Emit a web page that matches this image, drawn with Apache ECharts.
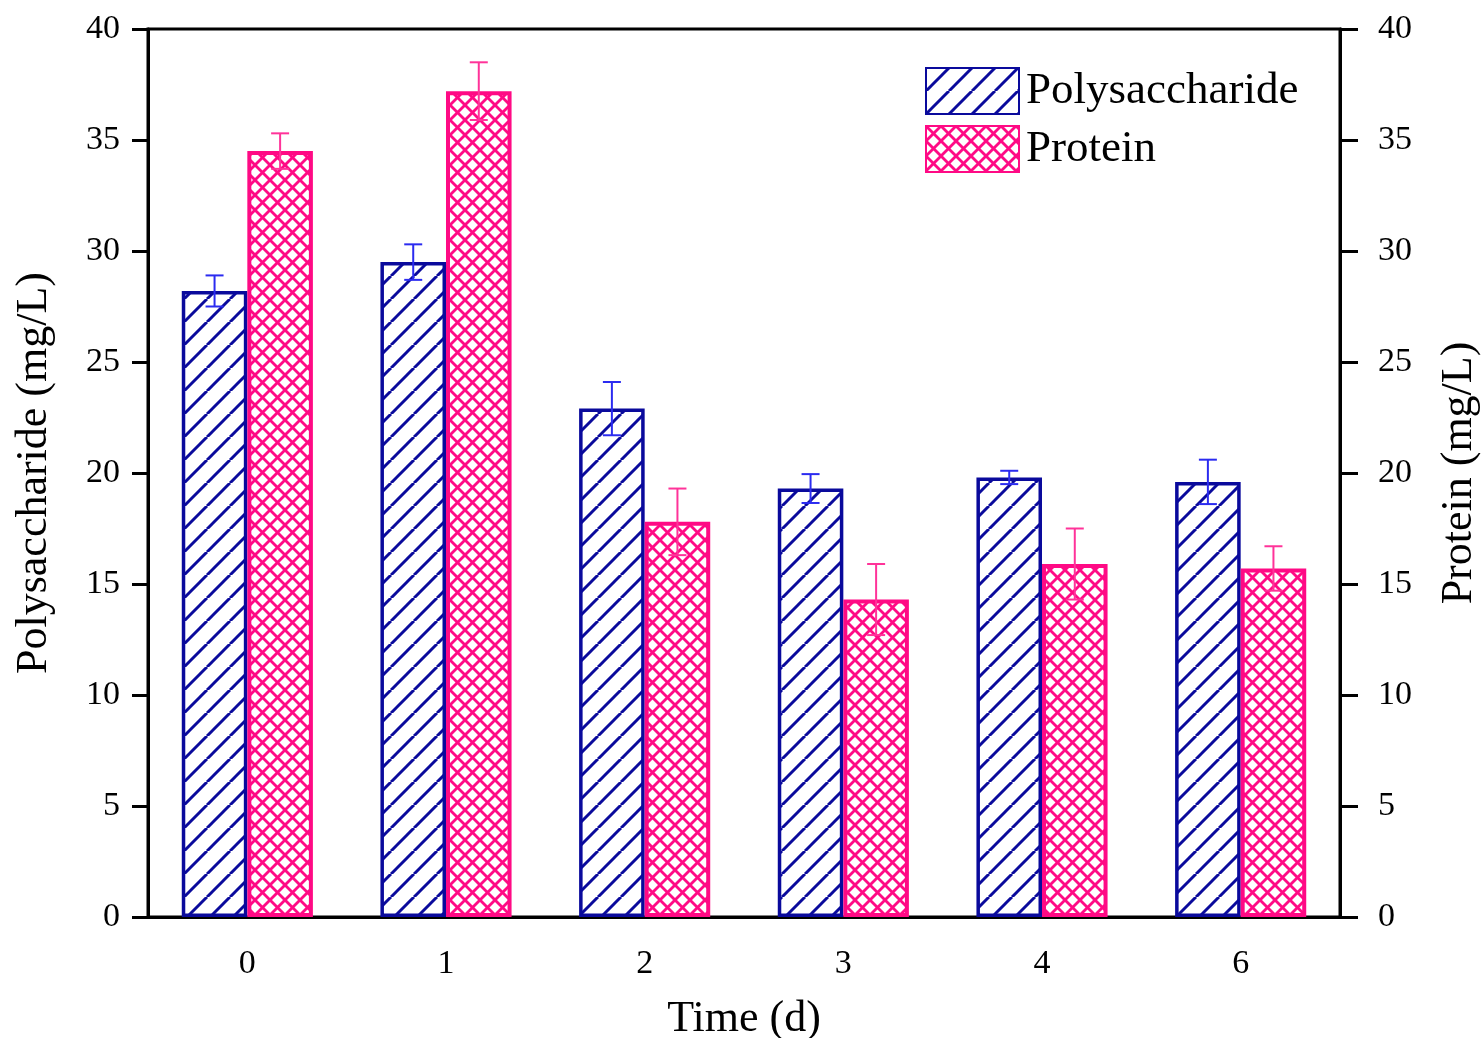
<!DOCTYPE html>
<html>
<head>
<meta charset="utf-8">
<title>Polysaccharide and protein</title>
<script src="https://cdn.jsdelivr.net/npm/echarts@6/dist/echarts.min.js"></script>
<style>
  html, body { margin: 0; padding: 0; background: #fff; }
  #chart { width: 1481px; height: 1038px; }
</style>
</head>
<body>
<div id="chart"></div>
<script>
  // data
  const days = ['0', '1', '2', '3', '4', '6']
  const polyMean = [28.2, 29.5, 22.9, 19.3, 19.8, 19.6]
  const polyErr = [0.7, 0.8, 1.2, 0.65, 0.3, 1.0]
  const protMean = [34.5, 37.2, 17.8, 14.3, 15.9, 15.7]
  const protErr = [0.8, 1.3, 1.5, 1.6, 1.6, 1.0]
  const yTicks = [0, 5, 10, 15, 20, 25, 30, 35, 40]

  const blue = '#0a0a9c'
  const pink = '#ff0a85'
  const font = 'Liberation Serif'

  // hatch tiles for the bar fills
  function hatch(size, color, cross, lw) {
    const c = document.createElement('canvas')
    c.width = size
    c.height = size
    const ctx = c.getContext('2d')
    ctx.fillStyle = '#fff'
    ctx.fillRect(0, 0, size, size)
    ctx.strokeStyle = color
    ctx.lineWidth = lw
    for (let d = -size; d <= size; d += size) {
      ctx.beginPath()
      ctx.moveTo(d, size)
      ctx.lineTo(d + size, 0)
      ctx.stroke()
      if (cross) {
        ctx.beginPath()
        ctx.moveTo(d, 0)
        ctx.lineTo(d + size, size)
        ctx.stroke()
      }
    }
    return c
  }

  const polyFill = { image: hatch(23, blue, false, 3), repeat: 'repeat' }
  const protFill = { image: hatch(15, pink, true, 2.8), repeat: 'repeat' }

  const polyBars = polyMean.map((v, i) => [i, v - polyErr[i], v + polyErr[i]])
  const protBars = protMean.map((v, i) => [i, v - protErr[i], v + protErr[i]])

  //误差棒
  function errorBar(side, color) {
    return function (params, api) {
      const x = api.value(0)
      const lo = api.coord([x, api.value(1)])
      const hi = api.coord([x, api.value(2)])
      const band = api.size([1, 0])[0]
      const cx = lo[0] + side * band * 0.165
      const half = 9
      const style = { stroke: color, lineWidth: 2 }
      return {
        type: 'group',
        children: [
          { type: 'line', shape: { x1: cx, y1: lo[1], x2: cx, y2: hi[1] }, style: style },
          { type: 'line', shape: { x1: cx - half, y1: hi[1], x2: cx + half, y2: hi[1] }, style: style },
          { type: 'line', shape: { x1: cx - half, y1: lo[1], x2: cx + half, y2: lo[1] }, style: style }
        ]
      }
    }
  }

  const chart = echarts.init(document.getElementById('chart'))
  const axisLine = { lineStyle: { color: '#000', width: 3 } }
  const yAxisBase = {
    type: 'value',
    min: yTicks[0],
    max: yTicks[yTicks.length - 1],
    interval: 5,
    splitLine: { show: false },
    axisLine: Object.assign({ show: true }, axisLine),
    axisTick: { show: true, length: 16, lineStyle: { color: '#000', width: 3 } },
    axisLabel: { color: '#000', fontFamily: font, fontSize: 34 },
    nameLocation: 'middle',
    nameRotate: 90,
    nameTextStyle: { color: '#000', fontFamily: font, fontSize: 44 }
  }

  chart.setOption({
    backgroundColor: '#fff',
    animation: false,
    grid: {
      left: 148, right: 141, top: 29, bottom: 121,
      outerBoundsMode: 'none',
      containLabel: false,
      show: true, borderColor: '#000', borderWidth: 3
    },
    legend: {
      left: 920,
      top: 62,
      orient: 'vertical',
      icon: 'rect',
      itemWidth: 93,
      itemHeight: 46,
      itemGap: 10,
      data: ['Polysaccharide', 'Protein'],
      textStyle: { color: '#000', fontFamily: font, fontSize: 45, lineHeight: 46, padding: [0, 0, 0, 2] }
    },
    xAxis: [
      {
        type: 'category',
        position: 'bottom',
        data: days,
        name: 'Time (d)',
        nameLocation: 'middle',
        nameGap: 80,
        nameTextStyle: { color: '#000', fontFamily: font, fontSize: 44 },
        axisLine: axisLine,
        axisTick: { alignWithLabel: true, length: 10, lineStyle: { color: '#000', width: 3 } },
        axisLabel: { color: '#000', fontFamily: font, fontSize: 34, margin: 30 }
      },
      {
        type: 'category',
        position: 'bottom',
        data: days,
        axisLine: axisLine,
        axisTick: { length: 9, lineStyle: { color: '#000', width: 3 } },
        axisLabel: { show: false }
      }
    ],
    yAxis: [
      Object.assign({}, yAxisBase, {
        position: 'left',
        name: 'Polysaccharide (mg/L)',
        nameGap: 92,
        axisLabel: Object.assign({}, yAxisBase.axisLabel, { margin: 28 })
      }),
      Object.assign({}, yAxisBase, {
        position: 'right',
        name: 'Protein (mg/L)',
        nameGap: 97,
        axisTick: { show: true, length: 18, lineStyle: { color: '#000', width: 3 } },
        axisLabel: Object.assign({}, yAxisBase.axisLabel, { margin: 38 })
      })
    ],
    series: [
      {
        name: 'Polysaccharide',
        type: 'bar',
        yAxisIndex: 0,
        barWidth: '33%',
        barGap: '0%',
        data: polyMean,
        itemStyle: { color: polyFill, borderColor: blue, borderWidth: 3.5 }
      },
      {
        name: 'Protein',
        type: 'bar',
        yAxisIndex: 1,
        barWidth: '33%',
        barGap: '0%',
        data: protMean,
        itemStyle: { color: protFill, borderColor: pink, borderWidth: 4 }
      },
      {
        type: 'custom',
        yAxisIndex: 0,
        z: 5,
        renderItem: errorBar(-1, '#2b2bf0'),
        data: polyBars
      },
      {
        type: 'custom',
        yAxisIndex: 1,
        z: 5,
        renderItem: errorBar(1, '#ff3399'),
        data: protBars
      }
    ]
  })
</script>
</body>
</html>
